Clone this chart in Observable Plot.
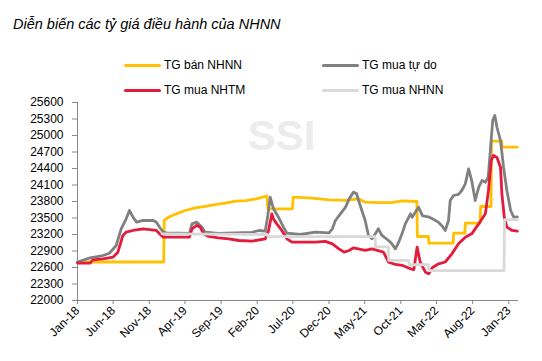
<!DOCTYPE html>
<html><head><meta charset="utf-8">
<script src="https://cdn.jsdelivr.net/npm/d3@7"></script>
<script src="https://cdn.jsdelivr.net/npm/@observablehq/plot@0.6"></script>
<style>
body{margin:0;background:#fff;font-family:"Liberation Sans",Arial,sans-serif;}
#wrap{position:relative;width:542px;height:361px;overflow:hidden;background:#fff;}
#title{position:absolute;left:13px;top:15px;font-size:14.5px;font-style:italic;color:#000;white-space:nowrap;line-height:18px;}
.lg{position:absolute;font-size:12px;white-space:nowrap;display:flex;align-items:center;height:16px;color:#000;}
.sw{display:inline-block;width:37px;height:3px;margin-right:3px;border-radius:1.5px;}
#chart{position:absolute;left:0;top:95px;}
</style></head><body>
<div id="wrap"><div id="title">Diễn biến các tỷ giá điều hành của NHNN</div><div id="legend"></div><div id="chart"></div></div>
<script>
// Series names and colours
const seriesNames = ["TG bán NHNN", "TG mua tự do", "TG mua NHTM", "TG mua NHNN"];
const seriesColors = ["#FFC000", "#808080", "#E31B3C", "#D9D9D9"];

// Tick values
const yTicks = [22000, 22300, 22600, 22900, 23200, 23500, 23800, 24100, 24400, 24700, 25000, 25300, 25600];
const xTicks = ["2018-01-01","2018-06-01","2018-11-01","2019-04-01","2019-09-01","2020-02-01","2020-07-01","2020-12-01","2021-05-01","2021-10-01","2022-03-01","2022-08-01","2023-01-01"];
const xDomain = ["2018-01-01", "2023-02-07"];
const yDomain = [22000, 25600];

// TG bán NHNN
const banNHNN = [["2018-01-01",22700],["2019-01-01",22700],["2019-01-03",23455],["2019-01-27",23527],["2019-02-24",23576],["2019-04-02",23636],["2019-05-14",23685],["2019-06-25",23710],["2019-08-07",23745],["2019-09-18",23770],["2019-11-01",23806],["2019-12-15",23815],["2020-01-28",23848],["2020-03-13",23900],["2020-03-17",23667],["2020-06-29",23667],["2020-07-02",23880],["2020-09-20",23860],["2020-12-01",23830],["2021-02-09",23820],["2021-04-05",23850],["2021-05-03",23788],["2021-06-28",23780],["2021-08-24",23780],["2021-10-06",23810],["2021-12-08",23800],["2021-12-10",23164],["2022-01-26",23164],["2022-01-28",23042],["2022-05-11",23042],["2022-05-13",23224],["2022-06-29",23224],["2022-07-01",23406],["2022-09-02",23406],["2022-09-04",23709],["2022-10-18",23709],["2022-10-20",24897],["2022-12-02",24897],["2022-12-04",24788],["2023-02-06",24788]];

// TG mua tự do
const muaTuDo = [["2018-01-01",22700],["2018-02-23",22776],["2018-04-19",22818],["2018-05-16",22860],["2018-06-14",23000],["2018-07-05",23303],["2018-07-26",23485],["2018-08-09",23636],["2018-08-24",23515],["2018-09-08",23424],["2018-10-06",23455],["2018-11-18",23455],["2018-12-01",23424],["2018-12-15",23333],["2018-12-30",23242],["2019-01-13",23230],["2019-04-20",23220],["2019-05-01",23394],["2019-05-21",23424],["2019-06-12",23333],["2019-06-25",23242],["2019-08-21",23220],["2019-11-01",23230],["2020-01-10",23240],["2020-02-08",23273],["2020-03-06",23260],["2020-03-17",23550],["2020-03-27",23879],["2020-04-10",23667],["2020-05-01",23515],["2020-05-22",23333],["2020-06-06",23224],["2020-08-02",23200],["2020-10-04",23242],["2020-12-01",23230],["2020-12-15",23303],["2020-12-28",23455],["2021-01-18",23576],["2021-02-09",23697],["2021-02-24",23848],["2021-03-15",23970],["2021-03-28",23940],["2021-04-05",23818],["2021-04-19",23636],["2021-05-03",23455],["2021-05-17",23182],["2021-06-01",23121],["2021-06-15",23212],["2021-06-28",23303],["2021-07-13",23182],["2021-08-10",23091],["2021-08-24",23030],["2021-09-08",22939],["2021-09-22",23060],["2021-10-06",23212],["2021-10-20",23394],["2021-11-11",23576],["2021-11-18",23515],["2021-12-15",23697],["2022-01-01",23540],["2022-01-27",23520],["2022-02-12",23485],["2022-03-10",23420],["2022-03-24",23360],["2022-04-07",23273],["2022-04-21",23455],["2022-04-28",23818],["2022-05-12",23909],["2022-06-02",23930],["2022-06-16",24000],["2022-07-01",24121],["2022-07-15",24394],["2022-07-28",24182],["2022-08-12",23818],["2022-08-27",24060],["2022-09-10",24182],["2022-09-24",24150],["2022-10-06",24242],["2022-10-15",24727],["2022-10-25",25273],["2022-11-03",25364],["2022-11-12",25150],["2022-11-27",24909],["2022-12-10",24424],["2022-12-24",24000],["2023-01-09",23636],["2023-01-22",23515],["2023-02-06",23520]];

// TG mua NHTM
const muaNHTM = [["2018-01-01",22680],["2018-02-23",22680],["2018-03-07",22740],["2018-04-19",22758],["2018-06-01",22790],["2018-06-21",22878],["2018-07-12",23182],["2018-07-26",23242],["2018-08-24",23273],["2018-10-06",23303],["2018-12-01",23273],["2018-12-22",23182],["2018-12-30",23151],["2019-04-20",23151],["2019-05-01",23303],["2019-05-21",23364],["2019-06-05",23330],["2019-06-19",23212],["2019-07-10",23164],["2019-08-21",23140],["2019-10-03",23120],["2019-11-15",23091],["2020-01-10",23080],["2020-03-06",23120],["2020-03-20",23273],["2020-04-03",23576],["2020-04-10",23480],["2020-04-24",23394],["2020-05-15",23273],["2020-06-06",23121],["2020-06-27",23060],["2020-08-02",23060],["2020-10-04",23060],["2020-11-15",23075],["2020-12-15",23030],["2021-01-12",22939],["2021-02-03",22879],["2021-02-24",22910],["2021-03-15",22958],["2021-05-03",22910],["2021-06-01",22940],["2021-07-19",22879],["2021-07-27",22818],["2021-08-10",22697],["2021-09-08",22655],["2021-10-06",22640],["2021-11-11",22576],["2021-11-25",22560],["2021-12-09",22970],["2021-12-22",22700],["2022-01-13",22515],["2022-01-27",22485],["2022-02-12",22600],["2022-03-10",22667],["2022-04-07",22700],["2022-05-05",22848],["2022-06-02",23030],["2022-07-01",23151],["2022-07-28",23212],["2022-08-27",23394],["2022-09-24",23576],["2022-10-07",24000],["2022-10-19",24545],["2022-10-28",24636],["2022-11-12",24600],["2022-11-27",24424],["2022-12-03",23939],["2022-12-13",23515],["2022-12-24",23333],["2023-01-15",23273],["2023-02-06",23260]];

// TG mua NHNN
const muaNHNN = [["2018-12-25",23210],["2020-03-15",23200],["2020-03-17",23160],["2021-06-14",23160],["2021-06-16",22975],["2021-08-09",22975],["2021-08-11",22730],["2021-11-03",22730],["2021-11-05",22650],["2022-01-26",22650],["2022-01-28",22545],["2022-12-12",22545],["2022-12-14",23470],["2023-02-06",23470]];

const seriesData = [banNHNN, muaTuDo, muaNHTM, muaNHNN];

// Legend (HTML above the plot)
const legendCols = [124, 322], legendRows = [57, 82];
const legendEl = document.getElementById("legend");
seriesNames.forEach((name, i) => {
  const d = document.createElement("div");
  d.className = "lg";
  d.style.left = legendCols[i % 2] + "px";
  d.style.top = legendRows[Math.floor(i / 2)] + "px";
  d.innerHTML = `<span class="sw" style="background:${seriesColors[i]}"></span><span>${name}</span>`;
  legendEl.appendChild(d);
});

const parse = s => new Date(s);
const fmt = d3.utcFormat("%b-%y");

const lines = seriesData.map((data, i) => Plot.line(data, {
  x: d => parse(d[0]), y: d => d[1], stroke: seriesColors[i], strokeWidth: 2.8, strokeLinejoin: "round"
}));

const chart = Plot.plot({
  width: 542, height: 266,
  marginLeft: 77, marginRight: 25, marginTop: 7, marginBottom: 61,
  style: {fontFamily: "'Liberation Sans', Arial, sans-serif", fontSize: "12px", color: "#000", background: "#fff", overflow: "visible"},
  x: {type: "utc", domain: xDomain.map(parse)},
  y: {domain: yDomain},
  marks: [
    Plot.text(["SSI"], {frameAnchor: "top-left", dx: 204, dy: 34, textAnchor: "middle", lineAnchor: "middle", fontSize: 42, fontWeight: "bold", fontFamily: "'Liberation Sans Narrow', 'Liberation Sans', sans-serif", fill: "#ececec"}),
    Plot.axisY({ticks: yTicks, tickFormat: d => String(d), tickSize: 5, tickPadding: 9, stroke: "#888", color: "#000", label: null}),
    Plot.axisX({ticks: xTicks.map(parse), tickFormat: fmt, tickSize: 4, tickPadding: 4, tickRotate: -45, stroke: "#888", color: "#000", label: null}),
    Plot.frame({anchor: "left", stroke: "#888"}),
    Plot.frame({anchor: "bottom", stroke: "#888"}),
    ...lines
  ]
});
document.getElementById("chart").appendChild(chart);
</script>
</body></html>
